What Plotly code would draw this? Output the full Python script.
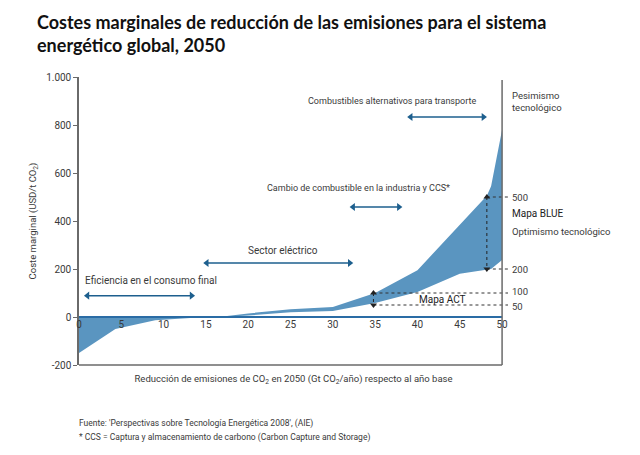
import plotly.graph_objects as go

# ---- data ----
x_band = [0, 4.3, 9, 13, 15, 17, 20, 25, 30, 35, 40, 45, 48.2, 48.7, 50]
upper = [0, 0, 0, 0, 0, 2, 15, 32, 42, 100, 195, 385, 505, 545, 780]
lower = [-150, -50, -14, -3, 0, 0, 6, 20, 25, 58, 104, 180, 195, 200, 238]

x_ticks = [0, 5, 10, 15, 20, 25, 30, 35, 40, 45, 50]
y_ticks = [-200, 0, 200, 400, 600, 800, 1000]
y_ticktext = ["-200", "0", "200", "400", "600", "800", "1.000"]

# sector ranges (x start, x end, y level)
sector_names = ["Eficiencia en el consumo final", "Sector eléctrico",
                "Cambio de combustible en la industria y CCS*",
                "Combustibles alternativos para transporte"]
sector_x0 = [1.0, 15.1, 32.4, 39.2]
sector_x1 = [13.3, 32.0, 37.8, 47.8]
sector_y = [89, 225, 458, 833]

blue_x = 48.2
blue_range = [200, 500]
act_x = 34.8
act_range = [50, 100]

XMAX = 50.7
FONT = "Roboto, sans-serif"
TXT = "#3a3a3a"
FILL = "#5a95c0"
ARROW = "#1d5f8e"
AXIS = "#6a6a6a"

def px(xv):
    return xv / XMAX

def py(yv):
    return (yv + 200) / 1200

fig = go.Figure()
fig.add_trace(go.Scatter(x=x_band, y=lower, mode="lines", line=dict(width=0),
                         hoverinfo="skip", showlegend=False))
fig.add_trace(go.Scatter(x=x_band, y=upper, mode="lines", line=dict(width=0),
                         fill="tonexty", fillcolor=FILL, hoverinfo="skip", showlegend=False))

# dotted reference lines
for xs, val in [(blue_x, blue_range[1]), (blue_x, blue_range[0]),
                (act_x, act_range[1]), (act_x, act_range[0])]:
    fig.add_trace(go.Scatter(x=[xs, XMAX], y=[val, val], mode="lines",
                             line=dict(color="#333", width=1, dash="dot"),
                             hoverinfo="skip", showlegend=False))
# dotted vertical double arrows
for xs, rng in [(blue_x, blue_range), (act_x, act_range)]:
    fig.add_trace(go.Scatter(x=[xs, xs], y=[rng[1], rng[0]], mode="lines+markers",
                             line=dict(color="#222", width=1, dash="dot"),
                             marker=dict(symbol=["triangle-up", "triangle-down"], size=6,
                                         color="#222"),
                             hoverinfo="skip", showlegend=False))
# sector double arrows
for x0, x1, yv in zip(sector_x0, sector_x1, sector_y):
    fig.add_trace(go.Scatter(x=[x0, x1], y=[yv, yv], mode="lines+markers",
                             line=dict(color=ARROW, width=1.5),
                             marker=dict(symbol=["triangle-left", "triangle-right"], size=7,
                                         color=ARROW),
                             hoverinfo="skip", showlegend=False))

shapes = [
    dict(type="line", xref="x", yref="y", x0=0, x1=50, y0=0, y1=0,
         line=dict(color="#2a6ca5", width=2)),
    dict(type="line", xref="x", yref="paper", x0=0, x1=50, y0=0, y1=0,
         line=dict(color=AXIS, width=1.5)),
    dict(type="line", xref="x", yref="paper", x0=50, x1=50, y0=0, y1=0.99,
         line=dict(color=AXIS, width=1.5)),
]

ann = []
# sector labels
ann.append(dict(x=0.45, y=153, xref="x", yref="y", text=sector_names[0], showarrow=False,
                xanchor="left", yanchor="middle", font=dict(size=10, color=TXT, family=FONT)))
ann.append(dict(x=24.1, y=278, xref="x", yref="y", text=sector_names[1], showarrow=False,
                xanchor="center", yanchor="middle", font=dict(size=10, color=TXT, family=FONT)))
ann.append(dict(x=33.05, y=538, xref="x", yref="y", text=sector_names[2], showarrow=False,
                xanchor="center", yanchor="middle", font=dict(size=9, color=TXT, family=FONT)))
ann.append(dict(x=36.98, y=900, xref="x", yref="y", text=sector_names[3], showarrow=False,
                xanchor="center", yanchor="middle", font=dict(size=9, color=TXT, family=FONT)))
ann.append(dict(x=42.9, y=72, xref="x", yref="y", text="Mapa ACT", showarrow=False,
                xanchor="center", yanchor="middle", font=dict(size=10, color="#222", family=FONT)))

# right-side labels
right_labels = [("Pesimismo<br>tecnológico", 897), ("500", 500), ("Mapa BLUE", 431),
                ("Optimismo tecnológico", 358), ("200", 199), ("100", 107), ("50", 45)]
for t, yv in right_labels:
    ann.append(dict(x=px(50.97), y=yv, xref="paper", yref="y", text=t, showarrow=False,
                    xanchor="left", yanchor="middle", align="left",
                    font=dict(size=9.5 if t != "Mapa BLUE" else 10,
                              color="#222" if t == "Mapa BLUE" else TXT, family=FONT)))

# footnotes
ann.append(dict(x=px(-0.2), y=py(-442), xref="paper", yref="paper", xanchor="left",
                yanchor="middle", showarrow=False,
                text="Fuente: 'Perspectivas sobre Tecnología Energética 2008', (AIE)",
                font=dict(size=8.5, color=TXT, family=FONT)))
ann.append(dict(x=px(-0.2), y=py(-500), xref="paper", yref="paper", xanchor="left",
                yanchor="middle", showarrow=False,
                text="* CCS = Captura y almacenamiento de carbono (Carbon Capture and Storage)",
                font=dict(size=8.5, color=TXT, family=FONT)))

fig.update_layout(
    width=640, height=455, autosize=False,
    margin=dict(l=71, r=140, t=69, b=98),
    paper_bgcolor="white", plot_bgcolor="white",
    title=dict(text="<b>Costes marginales de reducción de las emisiones para el sistema<br>"
                    "energético global, 2050</b>",
               xref="container", yref="container", x=29 / 640, xanchor="left",
               y=1 - 20.5 / 455, yanchor="middle",
               font=dict(family="Lato, sans-serif", size=18, color="#111")),
    shapes=shapes, annotations=ann,
    xaxis=dict(range=[0, XMAX], tickvals=x_ticks, showgrid=False, zeroline=False,
               showline=False, ticks="", anchor="free", position=200 / 1200,
               tickfont=dict(size=10, color=TXT, family=FONT),
               automargin=False,
               title=dict(text="Reducción de emisiones de CO<sub>2</sub> en 2050 "
                               "(Gt CO<sub>2</sub>/año) respecto al año base",
                          standoff=46, font=dict(size=9.5, color=TXT, family=FONT))),
    yaxis=dict(range=[-200, 1000], tickvals=y_ticks, ticktext=y_ticktext,
               showgrid=False, zeroline=False, showline=True, linecolor=AXIS,
               linewidth=1.5, ticks="outside", ticklen=4, tickcolor=AXIS,
               automargin=False,
               tickfont=dict(size=10, color=TXT, family=FONT),
               title=dict(text="Coste marginal (USD/t CO<sub>2</sub>)", standoff=8,
                          font=dict(size=9.5, color=TXT, family=FONT))),
)

fig.write_html("out.html")
